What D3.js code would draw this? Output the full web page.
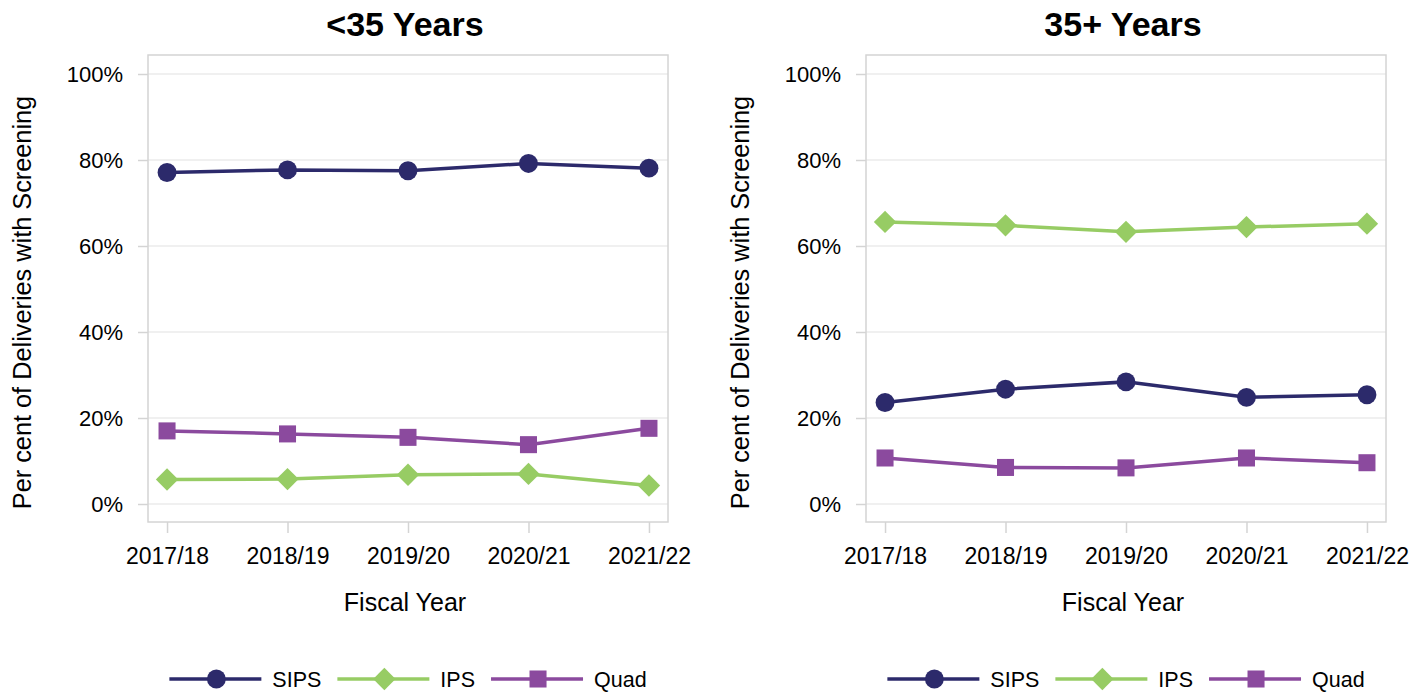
<!DOCTYPE html>
<html>
<head>
<meta charset="utf-8">
<script src="https://cdn.jsdelivr.net/npm/d3@7"></script>
<style>
  body { margin: 0; background: #fff; }
  svg { font-family: "Liberation Sans", Arial, sans-serif; }
</style>
</head>
<body>
<svg id="chart" width="1423" height="692"></svg>
<script>
const years = ["2017/18", "2018/19", "2019/20", "2020/21", "2021/22"];
const yTicks = [0, 20, 40, 60, 80, 100];
const seriesNames = ["SIPS", "IPS", "Quad"];
const panelTitles = ["<35 Years", "35+ Years"];

// <35 years
const under35Sips = [77.1, 77.7, 77.5, 79.2, 78.1];
const under35Ips = [5.7, 5.8, 6.8, 7.0, 4.3];
const under35Quad = [17.0, 16.3, 15.5, 13.8, 17.6];
// 35+ years
const over35Sips = [23.6, 26.7, 28.4, 24.8, 25.4];
const over35Ips = [65.6, 64.8, 63.3, 64.4, 65.2];
const over35Quad = [10.7, 8.5, 8.4, 10.7, 9.6];

const colors = { SIPS: "#2c2a6b", IPS: "#97cc64", Quad: "#8b4a9e" };
// le losange = carré tourné de 45°
const shapes = { SIPS: d3.symbolCircle, IPS: d3.symbolSquare, Quad: d3.symbolSquare };
const symSize = { SIPS: 280, IPS: 250, Quad: 290 };
const symRot = { SIPS: 0, IPS: 45, Quad: 0 };

const panels = [
  { title: panelTitles[0], left: 148, data: { SIPS: under35Sips, IPS: under35Ips, Quad: under35Quad } },
  { title: panelTitles[1], left: 866, data: { SIPS: over35Sips, IPS: over35Ips, Quad: over35Quad } }
];

const svg = d3.select("#chart");
const w = 520;
const plotTop = 55, plotBottom = 522;

// les échelles
const x = d3.scalePoint().domain(years).range([0, w]).padding(0.158);
const y = d3.scaleLinear().domain([0, 100]).range([504, 74]);

panels.forEach(p => {
  const g = svg.append("g").attr("transform", `translate(${p.left},0)`);

  // gridlines
  g.append("g")
    .selectAll("line")
    .data(yTicks)
    .join("line")
    .attr("x1", 0).attr("x2", w)
    .attr("y1", d => y(d)).attr("y2", d => y(d))
    .attr("stroke", "#ebebeb").attr("stroke-width", 1.5);

  // frame
  g.append("rect")
    .attr("x", 0).attr("y", plotTop)
    .attr("width", w).attr("height", plotBottom - plotTop)
    .attr("fill", "none").attr("stroke", "#d4d4d4").attr("stroke-width", 1.5);

  // y axis
  const yAxis = g.append("g")
    .call(d3.axisLeft(y).tickValues(yTicks).tickSize(10).tickPadding(15).tickFormat(d => d + "%"));
  yAxis.select(".domain").remove();
  yAxis.selectAll("line").attr("stroke", "#d4d4d4").attr("stroke-width", 1.5);
  yAxis.selectAll("text").attr("font-size", 22).attr("fill", "#000")
    .attr("font-family", "Liberation Sans, Arial, sans-serif");

  // x axis
  const xAxis = g.append("g")
    .attr("transform", `translate(0,${plotBottom})`)
    .call(d3.axisBottom(x).tickSize(11).tickPadding(15));
  xAxis.select(".domain").remove();
  xAxis.selectAll("line").attr("stroke", "#d4d4d4").attr("stroke-width", 1.5);
  xAxis.selectAll("text").attr("font-size", 23).attr("fill", "#000")
    .attr("font-family", "Liberation Sans, Arial, sans-serif");

  // titres
  g.append("text")
    .attr("x", w / 2 - 3).attr("y", 36)
    .attr("text-anchor", "middle")
    .attr("font-size", 34).attr("font-weight", "bold")
    .text(p.title);

  g.append("text")
    .attr("x", w / 2 - 3).attr("y", 611)
    .attr("text-anchor", "middle")
    .attr("font-size", 25)
    .text("Fiscal Year");

  g.append("text")
    .attr("transform", `translate(${-148 + 31},${(plotTop + plotBottom) / 2 + 14}) rotate(-90)`)
    .attr("text-anchor", "middle")
    .attr("font-size", 25.3)
    .text("Per cent of Deliveries with Screening");

  // series
  const line = d3.line().x((d, i) => x(years[i])).y(d => y(d));
  seriesNames.forEach(name => {
    const vals = p.data[name];
    g.append("path")
      .datum(vals)
      .attr("d", line)
      .attr("fill", "none")
      .attr("stroke", colors[name])
      .attr("stroke-width", 3.5);
    g.append("g")
      .selectAll("path")
      .data(vals)
      .join("path")
      .attr("transform", (d, i) => `translate(${x(years[i])},${y(d)}) rotate(${symRot[name]})`)
      .attr("d", d3.symbol(shapes[name], symSize[name]))
      .attr("fill", colors[name]);
  });

  // legend
  const leg = g.append("g").attr("transform", "translate(0,679)");
  let cx = 0;
  seriesNames.forEach(name => {
    const it = leg.append("g");
    it.append("line").attr("x1", 0).attr("x2", 92).attr("y1", 0).attr("y2", 0)
      .attr("stroke", colors[name]).attr("stroke-width", 3.5);
    it.append("path").attr("transform", `translate(47,0) rotate(${symRot[name]})`)
      .attr("d", d3.symbol(shapes[name], symSize[name]))
      .attr("fill", colors[name]);
    const t = it.append("text").attr("x", 103).attr("y", 8)
      .attr("font-size", 21.5).text(name);
    const tw = t.node().getComputedTextLength();
    it.attr("transform", `translate(${cx},0)`);
    cx += 103 + tw + 16;
  });
  const total = cx - 16;
  leg.attr("transform", `translate(${(w - total) / 2},679)`);
});
</script>
</body>
</html>
